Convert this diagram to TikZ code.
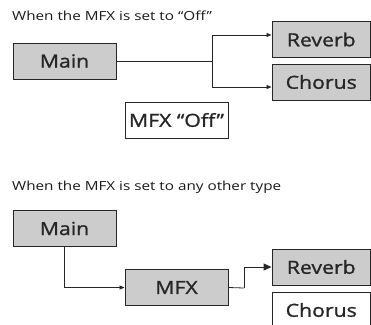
\documentclass[tikz,border=0pt]{standalone}
\usepackage{fontspec}
\setmainfont{Open Sans}[FakeStretch=1.22]
\newfontfamily\boxfont{Open Sans}[FakeStretch=1.18,FakeBold=1.2]
\usetikzlibrary{arrows.meta}
\begin{document}
\begin{tikzpicture}[x=1pt,y=-1pt,
  blk/.style={draw=black!85,line width=0.9pt,fill=black!20,minimum width=103pt,minimum height=36pt,inner sep=0pt,font=\boxfont\fontsize{18}{20}\selectfont,text=black!85},
  wblk/.style={blk,fill=white},
  ttl/.style={anchor=base west,inner sep=0pt,font=\fontsize{12.5}{14}\selectfont,text=black!90},
  conn/.style={draw=black!85,line width=0.8pt},
  tip/.style={-{Triangle[length=5pt,width=4pt]}}]
\useasboundingbox (0,0) rectangle (371,324);
% top
\node[ttl] (t1) at (12,20.5) {When the MFX is set to “Off”};
\node[blk] (main1) at (64.5,61) {Main};
\node[blk,minimum width=98.5pt] (rev1) at (321.25,39.5) {Reverb};
\node[blk,minimum width=98.5pt] (cho1) at (321.25,82) {Chorus};
\node[wblk] (off) at (176.5,120) {MFX “Off”};
\coordinate (split) at (212,61);
\draw[conn] (main1.east) -- (split);
\draw[conn,tip] (split) |- ([yshift=4.5pt]rev1.west);
\draw[conn,tip] (split) |- ([yshift=-5pt]cho1.west);
% bottom
\node[ttl] (t2) at (12,190.5) {When the MFX is set to any other type};
\node[blk] (main2) at (64.5,228.5) {Main};
\node[blk] (mfx) at (176.5,287.5) {MFX};
\node[blk,minimum width=98.5pt] (rev2) at (321.25,267) {Reverb};
\node[wblk,minimum width=98.5pt] (cho2) at (321.25,310) {Chorus};
\coordinate (bend) at (244,288);
\draw[conn,tip] (main2.south) |- (mfx.west);
\draw[conn] (mfx.east) -- (bend);
\draw[conn,line width=1pt,-{Triangle[length=8pt,width=7pt]}] (bend) |- (rev2.west);
\end{tikzpicture}
\end{document}
